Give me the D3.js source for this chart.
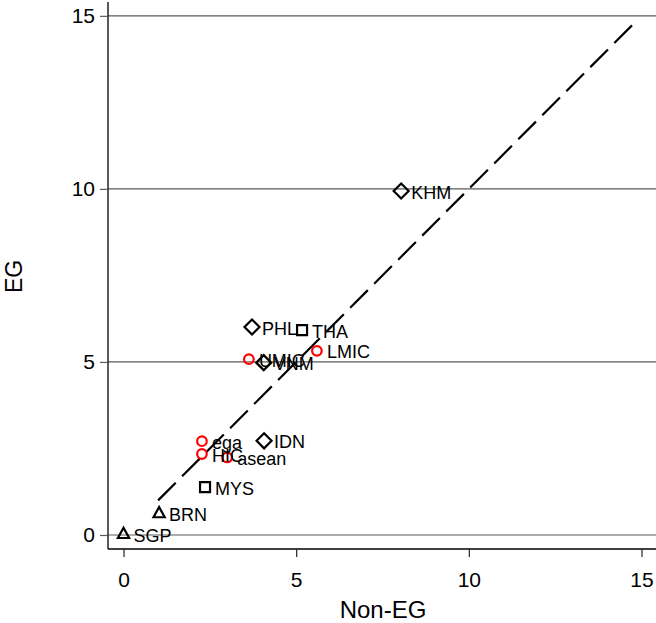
<!DOCTYPE html>
<html>
<head>
<meta charset="utf-8">
<script src="https://cdn.jsdelivr.net/npm/d3@7"></script>
<style>
  html, body { margin: 0; padding: 0; background: #fff; }
  svg { display: block; font-family: "Liberation Sans", Arial, Helvetica, sans-serif; }
</style>
</head>
<body>
<script>
// ---- data ----
const labels  = ["KHM", "PHL", "THA", "LMIC", "UMIC", "VNM", "IDN", "ega", "HIC", "asean", "MYS", "BRN", "SGP"];
const nonEG   = [8.04, 3.72, 5.17, 5.60, 3.63, 4.06, 4.07, 2.27, 2.27, 3.00, 2.36, 1.03, 0.00];
const EG      = [9.94, 6.01, 5.92, 5.32, 5.08, 4.98, 2.72, 2.71, 2.34, 2.24, 1.38, 0.62, 0.02];
const groups  = ["diamond", "diamond", "square", "circle", "circle", "diamond", "diamond", "circle", "circle", "circle", "square", "triangle", "triangle"];
const ticks   = [0, 5, 10, 15];
const refLine = [1, 14.86];
const xDomain = [-0.45, 15.42];
const yDomain = [-0.405, 15.40];

// ---- layout ----
const W = 656, H = 623;
const mLeft = 108, mRight = 656, mTop = 2, mBottom = 549;

const svg = d3.select("body").append("svg").attr("width", W).attr("height", H);

const x = d3.scaleLinear().domain(xDomain).range([mLeft, mRight]);
const y = d3.scaleLinear().domain(yDomain).range([mBottom, mTop]);

// gridlines
svg.append("g").selectAll("line").data(ticks).join("line")
  .attr("x1", mLeft).attr("x2", mRight)
  .attr("y1", d => y(d)).attr("y2", d => y(d))
  .attr("stroke", "#5a5a5a").attr("stroke-width", 1.2);

// y axis
const yAxis = svg.append("g").attr("transform", `translate(${mLeft},0)`)
  .call(d3.axisLeft(y).tickValues(ticks).tickSize(8).tickSizeOuter(0).tickPadding(5));
yAxis.select(".domain").attr("d", `M0,${mTop}V${mBottom}`).attr("stroke", "#000").attr("stroke-width", 1.3);
yAxis.selectAll(".tick line").attr("stroke", "#5a5a5a").attr("stroke-width", 1.2);
yAxis.selectAll(".tick text").attr("font-size", 21).attr("fill", "#000")
  .attr("font-family", "Liberation Sans, Arial, sans-serif");

// x axis
const xAxis = svg.append("g").attr("transform", `translate(0,${mBottom})`)
  .call(d3.axisBottom(x).tickValues(ticks).tickSize(8).tickSizeOuter(0).tickPadding(15));
xAxis.select(".domain").attr("d", `M${mLeft},0H${mRight}`).attr("stroke", "#000").attr("stroke-width", 1.3);
xAxis.selectAll(".tick line").attr("stroke", "#222").attr("stroke-width", 1.2);
xAxis.selectAll(".tick text").attr("font-size", 21).attr("fill", "#000")
  .attr("font-family", "Liberation Sans, Arial, sans-serif");

// dashed 45° line
svg.append("line")
  .attr("x1", x(refLine[0])).attr("y1", y(refLine[0]))
  .attr("x2", x(refLine[1])).attr("y2", y(refLine[1]))
  .attr("stroke", "#000").attr("stroke-width", 2.2)
  .attr("stroke-dasharray", "25,9");

// markers
const data = labels.map((l, i) => ({ label: l, x: nonEG[i], y: EG[i], g: groups[i] }));

function shapePath(g) {
  if (g === "diamond") return "M0,-7.5L7.5,0L0,7.5L-7.5,0Z";
  if (g === "square") return "M-5,-5H5V5H-5Z";
  if (g === "triangle") return "M0,-6.5L5.6,3.7H-5.6Z";
  return null;
}

const pts = svg.append("g");
data.forEach(d => {
  const cx = x(d.x), cy = y(d.y);
  if (d.g === "circle") {
    pts.append("circle").attr("cx", cx).attr("cy", cy).attr("r", 4.8)
      .attr("fill", "none").attr("stroke", "#ff0000").attr("stroke-width", 2.2);
  } else {
    pts.append("path").attr("d", shapePath(d.g))
      .attr("transform", `translate(${cx},${cy})`)
      .attr("fill", "none").attr("stroke", "#000").attr("stroke-width", 2.2)
      .attr("stroke-linejoin", "miter");
  }
});

// labels
svg.append("g").selectAll("text").data(data).join("text")
  .attr("x", d => x(d.x) + 10)
  .attr("y", d => y(d.y))
  .attr("dy", "0.42em")
  .attr("font-size", 18)
  .attr("fill", "#000")
  .text(d => d.label);

// axis titles
svg.append("text")
  .attr("x", 383).attr("y", 618)
  .attr("text-anchor", "middle").attr("font-size", 24).attr("fill", "#000")
  .text("Non-EG");

svg.append("text")
  .attr("transform", `translate(22,${(y(0) + y(15)) / 2 + 1}) rotate(-90)`)
  .attr("text-anchor", "middle").attr("font-size", 23).attr("fill", "#000")
  .text("EG");
</script>
</body>
</html>
